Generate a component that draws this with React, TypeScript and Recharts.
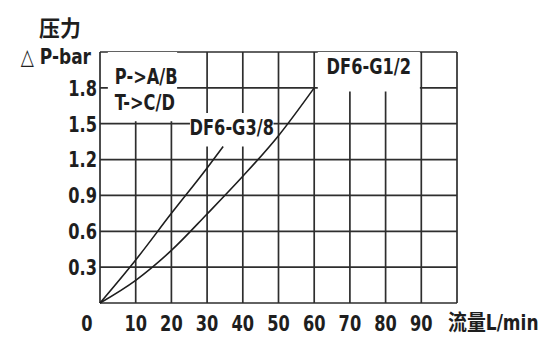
import { LineChart, Line, XAxis, YAxis, CartesianGrid, ReferenceArea } from 'recharts';

// flow (L/min) vs pressure drop (bar)
const flowTicks = [0, 10, 20, 30, 40, 50, 60, 70, 80, 90, 100];
const pressureTicks = [0, 0.3, 0.6, 0.9, 1.2, 1.5, 1.8, 2.1];

const g12Flow = [0, 10, 20, 30, 40, 50, 60];
const g12Drop = [0, 0.19, 0.44, 0.745, 1.06, 1.4, 1.8];

const g38Flow = [0, 10, 20, 30, 34.5];
const g38Drop = [0, 0.36, 0.75, 1.13, 1.31];

const g12Data = g12Flow.map((flow, i) => ({ flow, drop: g12Drop[i] }));
const g38Data = g38Flow.map((flow, i) => ({ flow, drop: g38Drop[i] }));

const FONT = "'Liberation Sans Narrow', 'DejaVu Sans Condensed', 'Noto Sans CJK SC', sans-serif";
const INK = '#1e1e1e';
const GRID = '#2e2e2e';

// condensed bold text, squeezed horizontally like the printed catalogue font
const Narrow = ({ x, y, anchor = 'middle', size = 22, sx = 0.82, dy = '0.36em', children }: any) => (
    <g transform={`translate(${x},${y}) scale(${sx},1)`}>
        <text x={0} y={0} dy={dy} textAnchor={anchor} fontFamily={FONT} fontWeight="bold" fontSize={size} fill={INK}>
            {children}
        </text>
    </g>
);

const XTick = (props: any) => {
    const { x, y, payload } = props;
    if (payload.value === 100) return null;
    const dx = payload.value === 0 ? -13 : 0;
    return <Narrow x={x + dx} y={y} dy="0.71em">{payload.value}</Narrow>;
};

const YTick = (props: any) => {
    const { x, y, payload } = props;
    if (payload.value === 0 || payload.value === 2.1) return null;
    return <Narrow x={x} y={y} anchor="end">{payload.value.toFixed(1)}</Narrow>;
};

const boxLabel = (lines: string[], align: 'start' | 'middle') => (props: any) => {
    const { x, y, width } = props.viewBox;
    const tx = align === 'start' ? x + 7 : x + width / 2;
    return (
        <g>
            {lines.map((t, i) => (
                <Narrow key={t} x={tx} y={y + (align === 'start' ? 24 : 14) + i * 26} anchor={align}>{t}</Narrow>
            ))}
        </g>
    );
};

const yTitle = (props: any) => {
    const { x, y, width } = props.viewBox;
    const right = x + width;
    return (
        <g>
            <Narrow x={right - 40} y={y - 24} size={22} sx={0.95}>压力</Narrow>
            <Narrow x={right - 9} y={y + 4} anchor="end" sx={0.86}>△ P-bar</Narrow>
        </g>
    );
};

const xTitle = (props: any) => {
    const { x, y, width } = props.viewBox;
    return <Narrow x={x + width - 9} y={y + 11} anchor="start" dy="0.71em" sx={0.86}>流量L/min</Narrow>;
};

export default function App() {
    return (
        <div style={{ position: 'absolute', left: 0, top: 0, width: 541, height: 337, background: '#fff' }}>
            <LineChart width={541} height={337} margin={{ top: 52, right: 84, bottom: 0, left: 0 }}>
                <CartesianGrid stroke={GRID} strokeWidth={1.7} />
                <XAxis
                    type="number"
                    dataKey="flow"
                    domain={[0, 100]}
                    ticks={flowTicks}
                    axisLine={false}
                    tickLine={false}
                    tickSize={0}
                    tickMargin={12}
                    height={34}
                    tick={<XTick />}
                    label={{ content: xTitle }}
                />
                <YAxis
                    type="number"
                    domain={[0, 2.1]}
                    ticks={pressureTicks}
                    axisLine={false}
                    tickLine={false}
                    tickSize={0}
                    tickMargin={3}
                    width={100}
                    tick={<YTick />}
                    label={{ content: yTitle }}
                />
                <ReferenceArea x1={2.2} x2={21.6} y1={1.52} y2={2.1} fill="#fff" fillOpacity={1} stroke="none"
                    label={{ content: boxLabel(['P->A/B', 'T->C/D'], 'start') }} />
                <ReferenceArea x1={25.2} x2={48.6} y1={1.31} y2={1.59} fill="#fff" fillOpacity={1} stroke="none"
                    label={{ content: boxLabel(['DF6-G3/8'], 'middle') }} />
                <ReferenceArea x1={61} x2={89.6} y1={1.77} y2={2.1} fill="#fff" fillOpacity={1} stroke="none"
                    label={{ content: boxLabel(['DF6-G1/2'], 'middle') }} />
                <Line data={g38Data} dataKey="drop" type="monotone" stroke={INK} strokeWidth={1.6} dot={false} isAnimationActive={false} />
                <Line data={g12Data} dataKey="drop" type="monotone" stroke={INK} strokeWidth={1.6} dot={false} isAnimationActive={false} />
            </LineChart>
        </div>
    );
}
